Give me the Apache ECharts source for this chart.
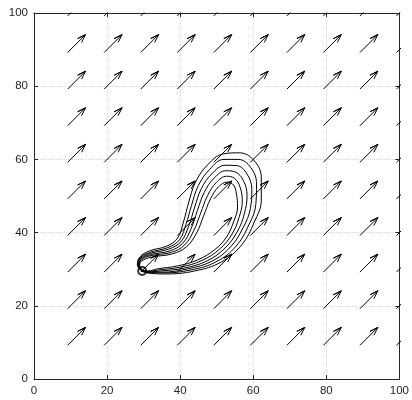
<!DOCTYPE html>
<html><head><meta charset="utf-8">
<script src="https://cdn.jsdelivr.net/npm/echarts@6/dist/echarts.min.js"></script>
<style>html,body{margin:0;padding:0;background:#fff}#c{width:412px;height:400px}</style>
</head><body><div id="c"></div>
<script>
// Tick labels
const tickValues = [0, 20, 40, 60, 80, 100];
// Quiver grid (arrow tails) and field components
const gridX = [9.2, 19.2, 29.2, 39.2, 49.2, 59.2, 69.2, 79.2, 89.2, 99.2];
const gridY = [9.2, 19.2, 29.2, 39.2, 49.2, 59.2, 69.2, 79.2, 89.2, 99.2];
const fieldU = 4.9;
const fieldV = 4.9;
// Start point marker
const startPoint = [[29.6, 29.5]];
// Closed contour loops (outermost to innermost)
const loop0 = [[29.4,29.5],[28.3,31.2],[28.9,33.3],[31.6,35.0],[36.3,36.3],[39.3,38.5],[40.9,42.9],[42.3,48.1],[44.2,53.8],[47.5,58.5],[51.8,61.5],[56.2,61.8],[60.3,59.6],[62.2,54.9],[62.2,48.9],[60.3,42.9],[56.8,36.6],[51.3,32.0],[43.9,29.5],[35.7,28.7],[30.8,29.0],[29.4,29.5]];
const loop1 = [[29.5,29.6],[28.4,31.1],[29.0,33.1],[31.7,34.6],[36.6,35.9],[39.8,38.0],[41.6,42.3],[43.1,47.4],[45.0,52.9],[48.1,57.3],[52.0,60.0],[55.9,60.0],[59.3,57.8],[60.9,53.3],[60.7,47.7],[58.8,42.1],[55.3,36.3],[50.0,32.1],[43.0,29.8],[35.3,29.0],[30.9,29.1],[29.5,29.6]];
const loop2 = [[29.5,29.6],[28.6,31.0],[29.1,32.9],[31.8,34.3],[36.9,35.5],[40.2,37.5],[42.3,41.7],[43.9,46.7],[45.8,52.0],[48.7,56.1],[52.3,58.4],[55.5,58.3],[58.3,56.0],[59.6,51.8],[59.2,46.5],[57.2,41.3],[53.8,36.1],[48.7,32.2],[42.1,30.1],[34.9,29.2],[30.9,29.2],[29.5,29.6]];
const loop3 = [[29.6,29.7],[28.7,31.0],[29.2,32.7],[31.9,34.0],[37.2,35.0],[40.7,37.1],[43.0,41.1],[44.7,46.0],[46.6,51.0],[49.3,54.9],[52.5,56.9],[55.2,56.5],[57.3,54.2],[58.3,50.2],[57.6,45.3],[55.7,40.4],[52.3,35.8],[47.4,32.3],[41.1,30.3],[34.6,29.5],[31.0,29.3],[29.6,29.7]];
const loop4 = [[29.6,29.7],[28.8,30.9],[29.3,32.5],[32.0,33.7],[37.6,34.6],[41.2,36.6],[43.7,40.5],[45.6,45.3],[47.5,50.1],[49.9,53.7],[52.7,55.4],[54.9,54.8],[56.4,52.4],[57.0,48.6],[56.1,44.1],[54.2,39.6],[50.8,35.5],[46.0,32.4],[40.2,30.6],[34.2,29.8],[31.0,29.4],[29.6,29.7]];
const loop5 = [[29.7,29.8],[28.9,30.9],[29.4,32.2],[32.2,33.3],[37.9,34.2],[41.7,36.1],[44.5,39.9],[46.4,44.5],[48.3,49.2],[50.5,52.5],[52.9,53.8],[54.6,53.0],[55.4,50.6],[55.7,47.0],[54.6,42.9],[52.7,38.8],[49.4,35.3],[44.7,32.5],[39.3,30.9],[33.8,30.1],[31.1,29.5],[29.7,29.8]];
const loops = [loop0, loop1, loop2, loop3, loop4, loop5];

const axisColor = '#262626';
const font = 'Liberation Sans, Arial, sans-serif';
function valAxis(pos, showLabels) {
  return {
    type: 'value', position: pos, min: 0, max: 100, interval: 20,
    axisLine: { show: true, onZero: false, lineStyle: { color: axisColor, width: 1 } },
    axisTick: { show: true, inside: true, length: 4, lineStyle: { color: axisColor, width: 1 } },
    axisLabel: { show: showLabels, color: axisColor, fontSize: 11.5, fontFamily: font, margin: 6,
      formatter: v => tickValues.includes(v) ? String(v) : '' },
    splitLine: { show: showLabels, lineStyle: { color: '#d9d9d9', type: 'dotted', width: 1 } }
  };
}
const series = [];
// quiver arrows: each arrow is one polyline tail -> head -> barb -> head -> barb
const A = 0.33, B = 0.33;
gridY.forEach(y => gridX.forEach(x => {
  const u = fieldU, v = fieldV;
  const hx = x + u, hy = y + v;
  const b1 = [hx - A * (u + B * v), hy - A * (v - B * u)];
  const b2 = [hx - A * (u - B * v), hy - A * (v + B * u)];
  series.push({
    type: 'line', data: [[x, y], [hx, hy], b1, [hx, hy], b2],
    showSymbol: false, symbol: 'none', silent: true, animation: false, clip: true,
    lineStyle: { color: '#000', width: 1 }, z: 2
  });
}));
loops.forEach(l => series.push({
  type: 'line', data: l, smooth: 0.4, showSymbol: false, symbol: 'none', silent: true, animation: false,
  lineStyle: { color: '#000', width: 1 }, clip: true, z: 3
}));
series.push({
  type: 'scatter', data: startPoint, symbol: 'circle', symbolSize: 8, silent: true, animation: false,
  itemStyle: { color: 'rgba(0,0,0,0)', borderColor: '#000', borderWidth: 2 }, z: 4
});
const chart = echarts.init(document.getElementById('c'), null, { renderer: 'canvas' });
chart.setOption({
  animation: false,
  backgroundColor: '#fff',
  grid: { left: 34, right: 12, top: 13, bottom: 21, containLabel: false },
  xAxis: [valAxis('bottom', true), valAxis('top', false)],
  yAxis: [valAxis('left', true), valAxis('right', false)],
  series: series
});
</script>
</body></html>
